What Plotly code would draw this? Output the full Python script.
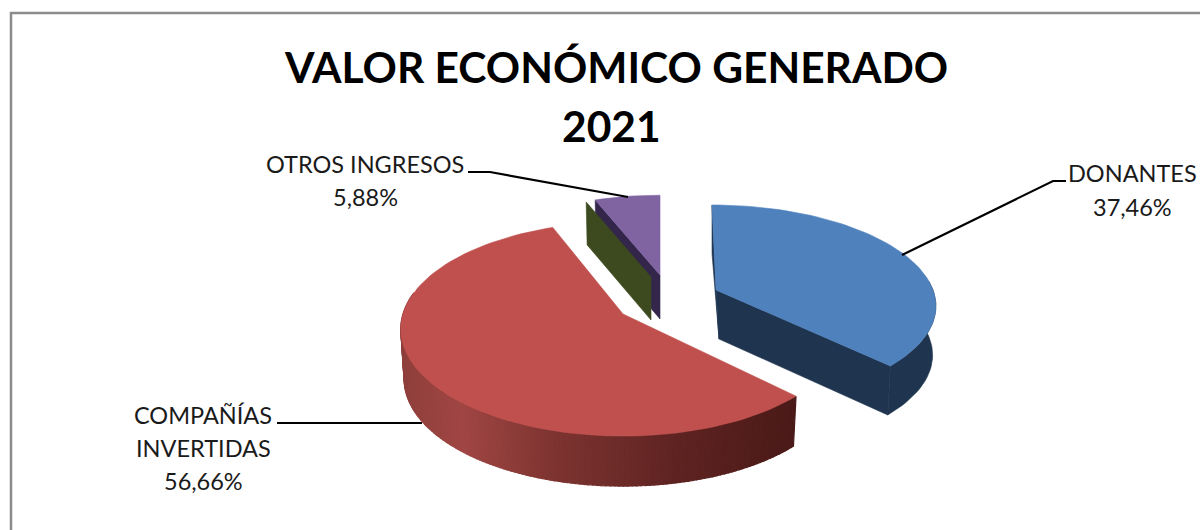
import math
import plotly.graph_objects as go

# Data (clockwise from 12 o'clock; the third slice has no value and only its cut wall shows)
categories = ["DONANTES", "COMPAÑÍAS INVERTIDAS", "(sin valor)", "OTROS INGRESOS"]
values = [37.46, 56.66, 0.0, 5.88]
label_lines = [["DONANTES", "37,46%"], ["COMPAÑÍAS", "INVERTIDAS", "56,66%"], ["OTROS INGRESOS", "5,88%"]]
title_lines = ["VALOR ECONÓMICO GENERADO", "2021"]

# Look of the exploded 3-D pie (one entry per slice)
apex_x = [716, 623, 651, 660]
apex_y = [290, 314, 277, 275]
radius_x = [217, 220, 203, 203]
radius_y = [97, 105, 91, 91]
tilt = [0.141, 0.14, 0.14, 0.14]
lean = [0.047, 0.0, 0.0, 0.0]
depth = [49, 50, 43, 44]
top_color = ["#4f81bd", "#c0504d", "#3d4a20", "#8064a2"]
wall_color = ["#1f344f", "#7a2f2d", "#3d4a20", "#33264a"]

FONT = "Lato, Carlito, Calibri, sans-serif"

fig = go.Figure()


def point(i, angle_deg):
    a = math.radians(angle_deg)
    u, v = math.sin(a), -math.cos(a)
    w = 1 - tilt[i] * v
    dy = radius_y[i] * v / w
    return apex_x[i] + radius_x[i] * u / w + lean[i] * dy, apex_y[i] + dy


def drop(i, p, shift=0.0):
    return apex_x[i] + (p[0] - apex_x[i]) * 0.985 + shift, p[1] + depth[i]


def poly(pts, color, width=0.6):
    xs = [p[0] for p in pts] + [pts[0][0]]
    ys = [p[1] for p in pts] + [pts[0][1]]
    fig.add_trace(go.Scatter(x=xs, y=ys, mode="lines", fill="toself", fillcolor=color,
                             line=dict(color=color, width=width), hoverinfo="skip", showlegend=False))


def arc(i, a0, a1, step=2.0):
    n = max(1, int(abs(a1 - a0) / step))
    return [point(i, a0 + (a1 - a0) * k / n) for k in range(n + 1)]


def lerp_hex(stops, t):
    for (t0, c0), (t1, c1) in zip(stops, stops[1:]):
        if t <= t1:
            f = (t - t0) / (t1 - t0)
            rgb = [round(int(c0[j:j + 2], 16) * (1 - f) + int(c1[j:j + 2], 16) * f) for j in (1, 3, 5)]
            return "rgb(%d,%d,%d)" % tuple(rgb)
    return stops[-1][1]


# slice angles
starts, ends, acc = [], [], 0.0
for val in values:
    starts.append(acc)
    acc += val * 3.6
    ends.append(acc)

apex = lambda i: (apex_x[i], apex_y[i])

# OTROS INGRESOS: cut wall then top
i = 3
p = point(i, starts[i])
poly([apex(i), p, drop(i, p), (apex_x[i], apex_y[i] + depth[i])], wall_color[i])
poly([apex(i)] + arc(i, starts[i], ends[i]), top_color[i])

# zero-valued slice: only its cut wall shows
i = 2
p = point(i, starts[i])
poly([apex(i), p, drop(i, p), (apex_x[i], apex_y[i] + depth[i])], wall_color[i])

# DONANTES
i = 0
p0 = point(i, starts[i])
poly([apex(i), p0, drop(i, p0), (apex_x[i] + 3, apex_y[i] + depth[i])], wall_color[i])
pe = point(i, ends[i])
poly([apex(i), pe, drop(i, pe), (apex_x[i] + 3, apex_y[i] + depth[i])], wall_color[i])
rim = arc(i, 85, ends[i])
poly(rim + [drop(i, q) for q in reversed(rim)], wall_color[i])
poly([apex(i)] + arc(i, starts[i], ends[i]), top_color[i])

# COMPAÑÍAS INVERTIDAS: shaded rim strips, then top
i = 1
stops = [(0.0, "#4a1a18"), (0.30, "#5e2321"), (0.62, "#7e3431"), (0.85, "#a04644"), (1.0, "#8f3f3c")]
rim = arc(i, starts[i], 282, step=1.0)
xmin, xmax = min(q[0] for q in rim), max(q[0] for q in rim)
for a, b in zip(rim, rim[1:]):
    t = (xmax - (a[0] + b[0]) / 2) / (xmax - xmin)
    poly([a, b, drop(i, b), drop(i, a)], lerp_hex(stops, t), width=1.2)
poly([apex(i)] + arc(i, starts[i], ends[i]), top_color[i])

# Leader lines
leaders = [([902, 1053, 1066], [255, 181, 181]), ([422, 277], [423, 423]), ([628, 490, 468], [197, 172, 172])]
for xs, ys in leaders:
    fig.add_trace(go.Scatter(x=xs, y=ys, mode="lines", line=dict(color="#000000", width=2.2),
                             hoverinfo="skip", showlegend=False))

# Text
label_pos = [(1132, [173, 207]), (203, [415, 448, 481]), (365, [164, 197])]
for (cx, rows), lines in zip(label_pos, label_lines):
    for yy, txt in zip(rows, lines):
        fig.add_annotation(x=cx, y=yy, text=txt, showarrow=False, xanchor="center", yanchor="middle",
                           font=dict(family=FONT, size=23.5, color="#1a1a1a"))
for cx, yy, txt in zip([616, 611], [66, 125], title_lines):
    fig.add_annotation(x=cx, y=yy, text="<b>%s</b>" % txt, showarrow=False, xanchor="center", yanchor="middle",
                       font=dict(family=FONT, size=42.5, color="#000000"))

# Chart frame
fig.add_shape(type="rect", x0=11, y0=13, x1=1230, y1=560, line=dict(color="#8c8c8c", width=2.5), layer="below")

fig.update_layout(width=1200, height=530, margin=dict(l=0, r=0, t=0, b=0),
                  paper_bgcolor="white", plot_bgcolor="white", showlegend=False,
                  xaxis=dict(range=[0, 1200], visible=False, fixedrange=True),
                  yaxis=dict(range=[530, 0], visible=False, fixedrange=True))
fig.write_html("out.html", config={"displayModeBar": False},
               post_script="document.body.style.margin='0';document.body.style.overflow='hidden';")
